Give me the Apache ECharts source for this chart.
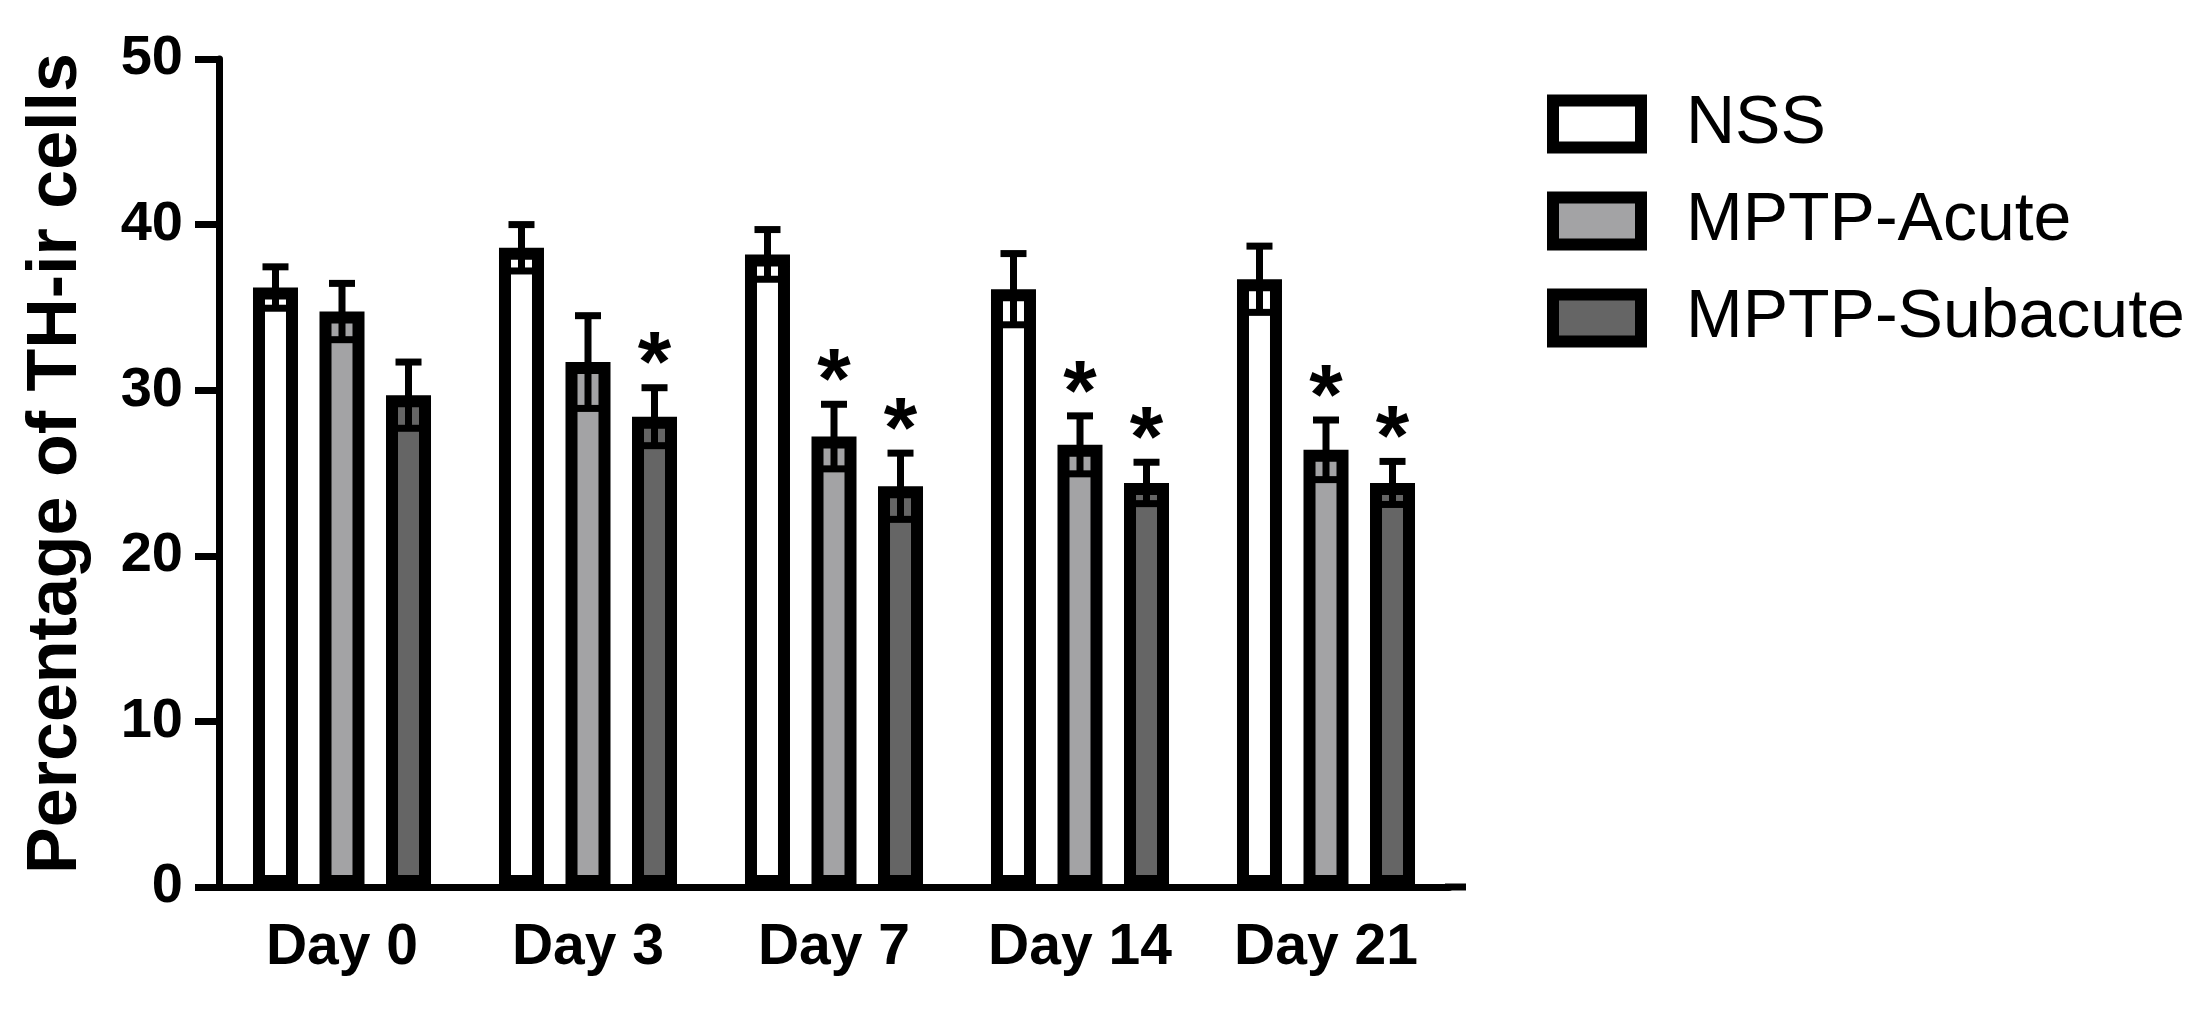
<!DOCTYPE html>
<html><head><meta charset="utf-8">
<script src="https://cdn.jsdelivr.net/npm/echarts@6/dist/echarts.min.js"></script>
<style>html,body{margin:0;padding:0;background:#fff}#c{width:2192px;height:1020px}</style>
</head><body><div id="c"></div>
<script>
// ---- data ----
const categories = ['Day 0', 'Day 3', 'Day 7', 'Day 14', 'Day 21'];
const seriesNames = ['NSS', 'MPTP-Acute', 'MPTP-Subacute'];
const nssMean   = [36.2, 38.6, 38.2, 36.1, 36.7];
const nssSem    = [1.25, 1.4, 1.5, 2.15, 2.0];
const acuteMean = [34.75, 31.7, 27.2, 26.7, 26.4];
const acuteSem  = [1.7, 2.8, 1.95, 1.75, 1.8];
const subMean   = [29.7, 28.4, 24.2, 24.4, 24.4];
const subSem    = [2.0, 1.75, 2.0, 1.25, 1.3];
const nssSig    = [0, 0, 0, 0, 0];
const acuteSig  = [0, 0, 1, 1, 1];
const subSig    = [0, 1, 1, 1, 1];
const yMin = 0, yMax = 50, yStep = 10;
const axisTitle = 'Percentage of TH-ir cells';

// ---- style constants ----
const FONT = '"Liberation Sans", Arial, sans-serif';
const W = 2192, H = 1020;
const GRID_LEFT = 219, GRID_TOP = 59, GRID_BOTTOM = 133, GRID_RIGHT = 743;
const BAR_W = 45, BAR_GAP = 0.478, BORDER = 12;
const EB_W = 7, CAP = 26, STAR_UP = 20, STAR_SIZE = 86;
const AX_W = 7, AX_OVERHANG = 17;
const colors = ['#ffffff', '#a3a3a5', '#656565'];

const chart = echarts.init(document.getElementById('c'), null, {renderer: 'canvas'});

function makeBar(k, means) {
  return {
    type: 'bar', name: seriesNames[k], data: means,
    barWidth: BAR_W, barGap: (BAR_GAP * 100) + '%',
    itemStyle: {color: colors[k], borderColor: '#000', borderWidth: BORDER},
    emphasis: {disabled: true}, silent: true, z: 2
  };
}
function makeErr(k, means, sems, sigs) {
  return {
    type: 'custom', name: seriesNames[k] + ' SEM', z: 5, silent: true, clip: false,
    data: means.map((m, i) => [i, m, sems[i], sigs[i]]),
    encode: {x: 0, y: 1},
    renderItem(params, api) {
      const i = api.value(0), m = api.value(1), s = api.value(2), sig = api.value(3);
      const off = (k - 1) * BAR_W * (1 + BAR_GAP);
      const hi = api.coord([i, m + s]), lo = api.coord([i, m - s]);
      const x = hi[0] + off;
      const st = {stroke: '#000', lineWidth: EB_W};
      const children = [
        {type: 'line', shape: {x1: x, y1: hi[1], x2: x, y2: lo[1]}, style: st},
        {type: 'line', shape: {x1: x - CAP / 2, y1: hi[1], x2: x + CAP / 2, y2: hi[1]}, style: st},
        {type: 'line', shape: {x1: x - CAP / 2, y1: lo[1], x2: x + CAP / 2, y2: lo[1]}, style: st}
      ];
      if (sig) {
        children.push({type: 'text', style: {
          text: '*', x: x, y: hi[1] - STAR_UP, fill: '#000',
          fontSize: STAR_SIZE, fontWeight: 'bold', fontFamily: FONT,
          align: 'center', verticalAlign: 'middle'}});
      }
      return {type: 'group', children};
    }
  };
}

const option = {
  animation: false,
  backgroundColor: '#fff',
  grid: {left: GRID_LEFT, top: GRID_TOP, bottom: GRID_BOTTOM, right: GRID_RIGHT, containLabel: false},
  legend: {
    data: seriesNames, orient: 'vertical', left: 1542, top: 85,
    itemWidth: 88, itemHeight: 47, itemGap: 29, icon: 'rect',
    itemStyle: {borderColor: '#000', borderWidth: BORDER},
    textStyle: {fontSize: 68, fontFamily: FONT, color: '#000', lineHeight: 66, padding: [0, 0, 0, 40]},
    selectedMode: false
  },
  xAxis: {
    type: 'category', data: categories,
    axisLine: {lineStyle: {color: '#000', width: AX_W}},
    axisTick: {alignWithLabel: true, length: 28, lineStyle: {color: '#000', width: AX_W}},
    axisLabel: {fontSize: 57, fontWeight: 'bold', fontFamily: FONT, color: '#000', margin: 33},
    splitLine: {show: false}
  },
  yAxis: {
    type: 'value', min: yMin, max: yMax, interval: yStep,
    name: axisTitle, nameLocation: 'middle', nameGap: 127, nameRotate: 90,
    nameTextStyle: {fontSize: 70, fontWeight: 'bold', fontFamily: FONT, color: '#000', padding: [0, 0, 0, 19]},
    axisLine: {show: true, lineStyle: {color: '#000', width: AX_W}},
    axisTick: {show: true, length: 24, lineStyle: {color: '#000', width: AX_W}},
    axisLabel: {fontSize: 56, fontWeight: 'bold', fontFamily: FONT, color: '#000', margin: 36},
    splitLine: {show: false}
  },
  series: [
    makeBar(0, nssMean), makeBar(1, acuteMean), makeBar(2, subMean),
    makeErr(0, nssMean, nssSem, nssSig), makeErr(1, acuteMean, acuteSem, acuteSig), makeErr(2, subMean, subSem, subSig)
  ]
};
chart.setOption(option);

// extend the x-axis line a little past the last band, as in the original
const y0 = chart.convertToPixel({yAxisIndex: 0}, yMin);
const xEnd = W - GRID_RIGHT;
chart.setOption({graphic: [{
  type: 'line', z: 0, silent: true,
  shape: {x1: xEnd - 4, y1: y0, x2: xEnd + AX_OVERHANG, y2: y0},
  style: {stroke: '#000', lineWidth: AX_W}
}]});
</script></body></html>
